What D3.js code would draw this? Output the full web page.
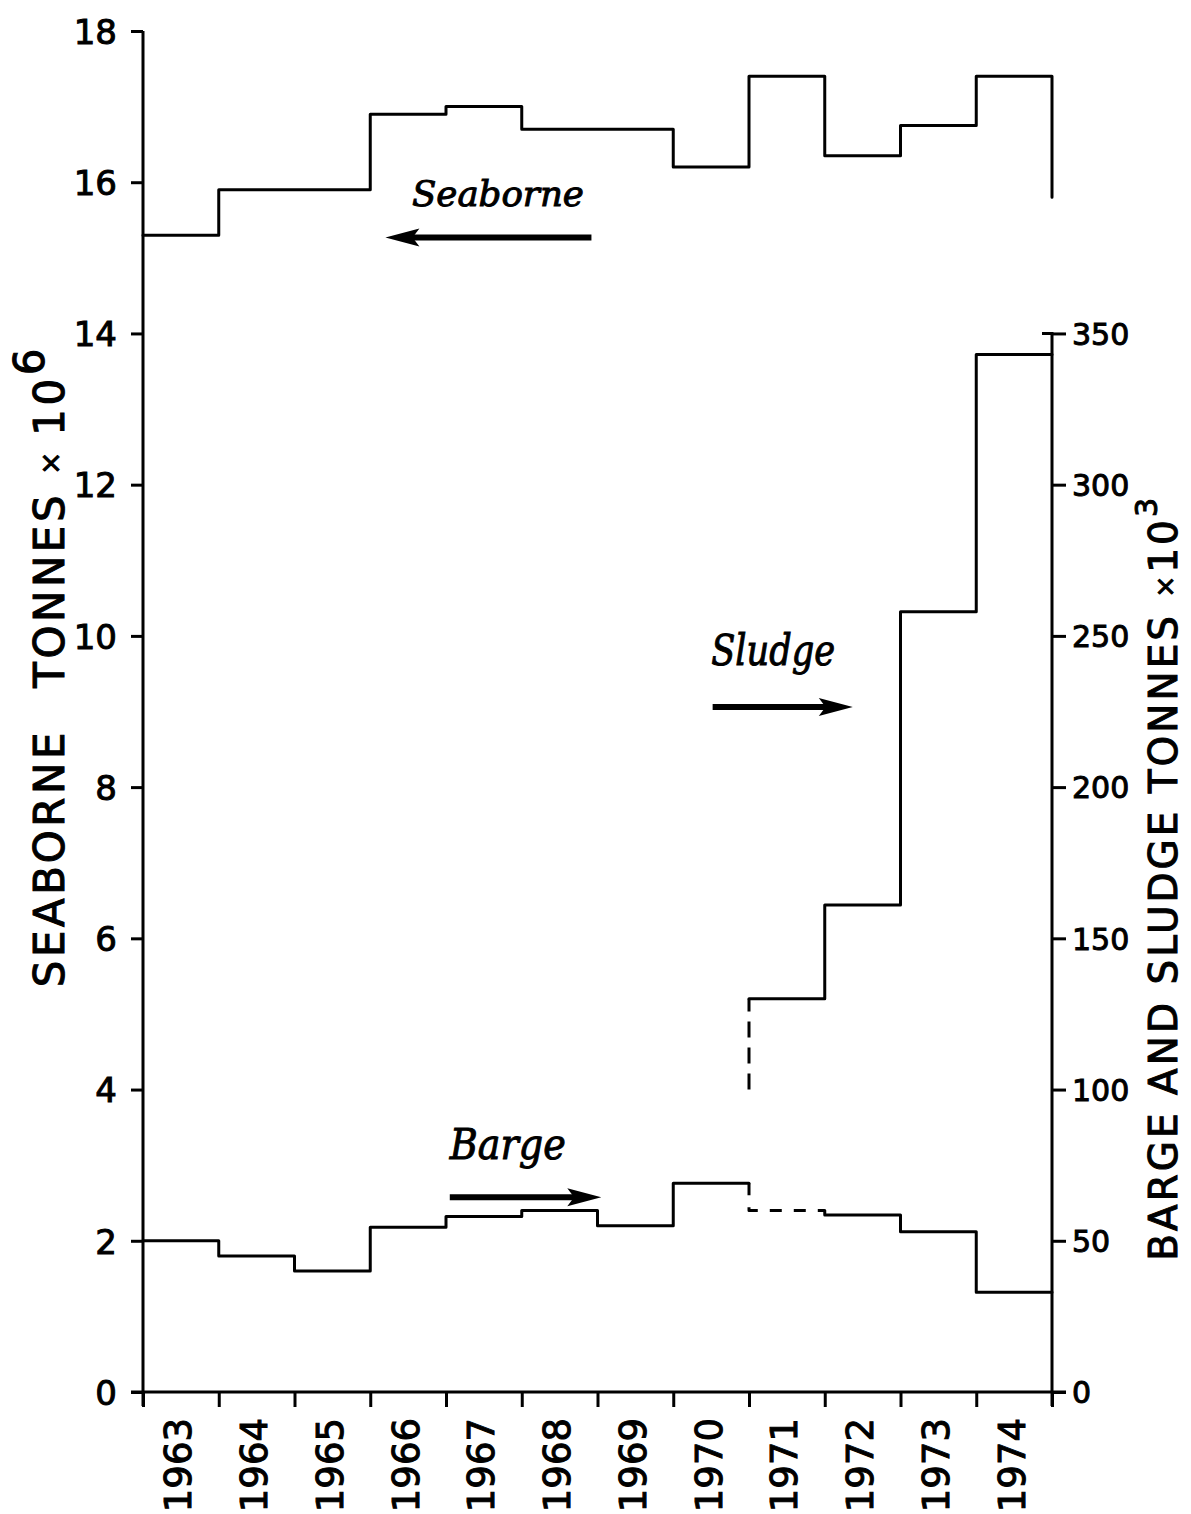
<!DOCTYPE html>
<html>
<head>
<meta charset="utf-8">
<script src="https://cdn.jsdelivr.net/npm/d3@7/dist/d3.min.js"></script>
<style>
  html, body { margin: 0; padding: 0; background: #fff; }
  svg { display: block; }
  .axis path, .axis line { stroke: #000; stroke-width: 3; }
  .axis text { font-family: "DejaVu Sans", sans-serif; fill: #000; stroke: #000; stroke-width: 1; }
  .lettering { fill: #000; stroke: #000; stroke-width: 1; }
</style>
</head>
<body>
<svg id="chart" width="1191" height="1514"></svg>
<script>
// Year bins (each value holds for one calendar year)
const years = [1963, 1964, 1965, 1966, 1967, 1968, 1969, 1970, 1971, 1972, 1973, 1974];
const yearLabels = ["1963", "1964", "1965", "1966", "1967", "1968", "1969", "1970", "1971", "1972", "1973", "1974"];

// Seaborne tonnage, millions of tonnes (left axis)
const seaborne = [15.3, 15.9, 15.9, 16.9, 17.0, 16.7, 16.7, 16.2, 17.4, 16.35, 16.75, 17.4];
const seaborneTail = 15.8;

// Barge tonnage, thousands of tonnes (right axis); 1971 is an estimate
const barge = [50, 45, 40, 54.5, 58, 60, 55, 69, 60, 58.5, 53, 33];

// Sludge tonnage, thousands of tonnes (right axis), recorded from 1971
const sludgeYears = [1971, 1972, 1973, 1974];
const sludge = [130, 161, 258, 343];
const sludgeLeadIn = 100;

// Tick values
const leftTicks = [0, 2, 4, 6, 8, 10, 12, 14, 16, 18];
const rightTicks = [0, 50, 100, 150, 200, 250, 300, 350];
const yearTicks = [1963, 1964, 1965, 1966, 1967, 1968, 1969, 1970, 1971, 1972, 1973, 1974, 1975];

const svg = d3.select("#chart");

const x = d3.scaleLinear().domain([1963, 1975]).range([143, 1052]);
const yL = d3.scaleLinear().domain([0, 18]).range([1392, 31]);
const yR = d3.scaleLinear().domain([0, 350]).range([1392, yL(14)]);

const stepLine = (ys) => d3.line().x(d => x(d[0])).y(d => ys(d[1])).curve(d3.curveStepAfter);

// ---- Axes ----
const leftAxis = svg.append("g").attr("class", "axis")
  .attr("transform", `translate(${x(1963)},0)`)
  .call(d3.axisLeft(yL).tickValues(leftTicks).tickSize(12).tickSizeOuter(0).tickFormat(d3.format("d")));
leftAxis.selectAll("text").attr("font-size", 34).attr("x", -26).attr("dy", "0.36em");
leftAxis.select(".domain").attr("d", `M0,${yL(0) + 14}V${yL(18)}`);

const rightAxis = svg.append("g").attr("class", "axis")
  .attr("transform", `translate(${x(1975)},0)`)
  .call(d3.axisRight(yR).tickValues(rightTicks).tickSize(14).tickSizeOuter(0).tickFormat(d3.format("d")));
rightAxis.selectAll("text").attr("font-size", 30).attr("x", 20).attr("dy", "0.36em");
rightAxis.select(".domain").attr("d", `M0,${yR(0) + 14}V${yR(350)}h-10`);

const bottomAxis = svg.append("g").attr("class", "axis")
  .attr("transform", `translate(0,${yL(0)})`)
  .call(d3.axisBottom(x).tickValues(yearTicks).tickSize(15).tickSizeOuter(0).tickFormat(""));
bottomAxis.select(".domain").attr("d", `M${x(1963) - 12},0H${x(1975) + 14}`);

// Year labels centred in each bin, reading upward
svg.append("g").selectAll("text")
  .data(years)
  .join("text")
  .attr("class", "lettering")
  .attr("transform", (d) => `translate(${x(d + 0.5)},${yL(0) + 26}) rotate(-90)`)
  .attr("text-anchor", "end")
  .attr("dominant-baseline", "middle")
  .attr("font-family", "DejaVu Sans, sans-serif")
  .attr("font-size", 37)
  .text((d, i) => yearLabels[i]);

// ---- Axis titles ----
const leftTitle = svg.append("text")
  .attr("class", "lettering")
  .attr("transform", `translate(52,${yL(9.6)}) rotate(-90)`)
  .attr("text-anchor", "middle")
  .attr("dominant-baseline", "middle")
  .attr("font-family", "DejaVu Sans, sans-serif")
  .attr("letter-spacing", 3.5)
  .attr("font-size", 42);
leftTitle.append("tspan").text("SEABORNE\u2002 TONNES ");
leftTitle.append("tspan").attr("font-size", 28).text("\u00d7 ");
leftTitle.append("tspan").text("10");
leftTitle.append("tspan").attr("dy", -20).text("6");

const rightTitle = svg.append("text")
  .attr("class", "lettering")
  .attr("transform", `translate(1166,${yR(170)}) rotate(-90)`)
  .attr("text-anchor", "middle")
  .attr("dominant-baseline", "middle")
  .attr("font-family", "DejaVu Sans, sans-serif")
  .attr("letter-spacing", 3)
  .attr("font-size", 39);
rightTitle.append("tspan").text("BARGE AND SLUDGE TONNES ");
rightTitle.append("tspan").attr("font-size", 26).text("\u00d7");
rightTitle.append("tspan").text("10");
rightTitle.append("tspan").attr("font-size", 30).attr("dy", -18).text("3");

// ---- Series ----
const lineStyle = (sel) => sel.attr("fill", "none").attr("stroke", "#000")
  .attr("stroke-width", 3).attr("stroke-linejoin", "round").attr("stroke-linecap", "round");

// Seaborne: step line with the closing drop at the end of 1974
const seaPts = years.map((yr, i) => [yr, seaborne[i]]);
seaPts.push([1975, seaborne[seaborne.length - 1]]);
svg.append("path").call(lineStyle)
  .attr("d", stepLine(yL)(seaPts) + `V${yL(seaborneTail)}`);

// Barge: solid through 1970, dashed estimate for 1971, solid again from 1972
const bargePts = years.map((yr, i) => [yr, barge[i]]);
const i71 = years.indexOf(1971);
const bargeA = bargePts.slice(0, i71).concat([[1971, barge[i71 - 1]]]);
const bargeC = bargePts.slice(i71 + 1).concat([[1975, barge[barge.length - 1]]]);
svg.append("path").call(lineStyle).attr("d", stepLine(yR)(bargeA));
svg.append("path").call(lineStyle).attr("stroke-dasharray", "12 12").attr("stroke-linecap", "butt")
  .attr("d", `M${x(1971)},${yR(barge[i71 - 1])}V${yR(barge[i71])}H${x(1972)}`);
svg.append("path").call(lineStyle).attr("d", `M${x(1972)},${yR(barge[i71])}` + stepLine(yR)(bargeC).replace(/^M/, "L"));

// Sludge: dashed lead-in at 1971, then solid steps
svg.append("path").call(lineStyle).attr("stroke-dasharray", "16 10").attr("stroke-linecap", "butt")
  .attr("d", `M${x(1971)},${yR(sludgeLeadIn)}V${yR(sludge[0])}`);
const sludgePts = sludgeYears.map((yr, i) => [yr, sludge[i]]);
sludgePts.push([1975, sludge[sludge.length - 1]]);
svg.append("path").call(lineStyle).attr("d", stepLine(yR)(sludgePts));

// ---- Series annotations with direction arrows ----
function arrow(x0, x1, yy) {
  const dir = Math.sign(x1 - x0);
  const headLen = 34, headHalf = 9;
  svg.append("line")
    .attr("x1", x0).attr("x2", x1 - dir * headLen * 0.6).attr("y1", yy).attr("y2", yy)
    .attr("stroke", "#000").attr("stroke-width", 6);
  svg.append("path")
    .attr("d", `M${x1},${yy}L${x1 - dir * headLen},${yy - headHalf}L${x1 - dir * headLen * 0.8},${yy}L${x1 - dir * headLen},${yy + headHalf}Z`)
    .attr("fill", "#000");
}
function label(txt, xx, yy, len, size) {
  svg.append("text")
    .attr("class", "lettering")
    .attr("x", xx).attr("y", yy)
    .attr("font-family", "DejaVu Serif, serif")
    .attr("font-style", "italic")
    .attr("font-size", size)
    .attr("textLength", len).attr("lengthAdjust", "spacingAndGlyphs")
    .text(txt);
}

label("Seaborne", x(1966.55), yL(15.68), 172, 36);
arrow(x(1968.92), x(1966.2), yL(15.27));

label("Sludge", x(1970.5), yR(240.5), 124, 42);
arrow(x(1970.52), x(1972.37), yR(226.5));

label("Barge", x(1967.05), yR(77), 116, 42);
arrow(x(1967.05), x(1969.05), yR(64.4));
</script>
</body>
</html>
